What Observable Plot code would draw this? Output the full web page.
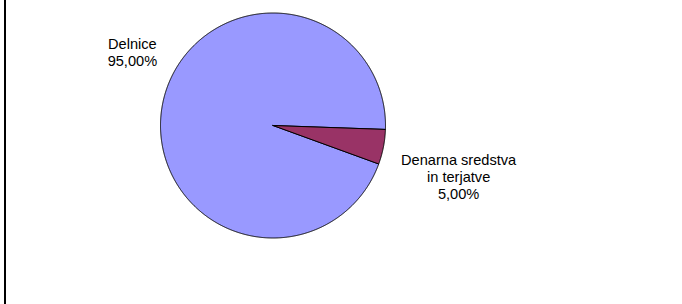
<!DOCTYPE html>
<html>
<head>
<meta charset="utf-8">
<script src="https://cdn.jsdelivr.net/npm/d3@7"></script>
<script src="https://cdn.jsdelivr.net/npm/@observablehq/plot@0.6"></script>
<style>
  html, body { margin: 0; padding: 0; background: #fff; }
  #wrap { position: relative; width: 682px; height: 304px; overflow: hidden; }
  #frame { position: absolute; left: 4px; top: 0; width: 2px; height: 304px; background: #000; }
</style>
</head>
<body>
<div id="wrap"><div id="frame"></div></div>
<script>
// ---- data ----
const categories = ["Delnice", "Denarna sredstva\nin terjatve"];
const shares = [95, 5];
const valueLabels = ["95,00%", "5,00%"];
const sliceColors = ["#9999FF", "#993366"];

// ---- layout (pie geometry in unit-circle coordinates) ----
const cx = 272.5, cy = 125, r = 112.5;
const startDeg = 110; // compass degrees, clockwise from 12 o'clock
// label anchors, in pie-radius units (x right, y up; y = top of first line)
const labelAnchor = [[-1.25, 0.79], [1.65, -0.243]];

const rows = categories.map((c, i) => ({name: c, share: shares[i], pct: valueLabels[i], color: sliceColors[i]}));
const start = startDeg * Math.PI / 180;
const arcs = d3.pie().sort(null).value(d => d.share).startAngle(start).endAngle(start + 2 * Math.PI)(rows);

const pts = [];
arcs.forEach(a => {
  const n = Math.max(8, Math.ceil((a.endAngle - a.startAngle) / (Math.PI / 720)));
  pts.push({name: a.data.name, color: a.data.color, x: 0, y: 0});
  for (let k = 0; k <= n; k++) {
    const t = a.startAngle + (a.endAngle - a.startAngle) * k / n;
    pts.push({name: a.data.name, color: a.data.color, x: Math.sin(t), y: Math.cos(t)});
  }
  pts.push({name: a.data.name, color: a.data.color, x: 0, y: 0});
});

const labels = rows.map((d, i) => ({text: d.name + "\n" + d.pct, x: labelAnchor[i][0], y: labelAnchor[i][1]}));

const chart = Plot.plot({
  width: 682,
  height: 304,
  margin: 0,
  style: {background: "transparent", fontFamily: "'Liberation Sans', Arial, sans-serif", fontSize: "14.6px", overflow: "visible"},
  x: {domain: [-1, 1], range: [cx - r, cx + r], axis: null},
  y: {domain: [-1, 1], range: [cy + r, cy - r], axis: null},
  color: {type: "identity"},
  marks: [
    Plot.line(pts, {x: "x", y: "y", z: "name", fill: "color", stroke: "#000", strokeWidth: 1, curve: "linear", strokeLinejoin: "round"}),
    Plot.text(labels, {x: "x", y: "y", text: "text", lineAnchor: "top", textAnchor: "middle", fontSize: 14.6, lineHeight: 1.16, fill: "#000"})
  ]
});
chart.style.position = "absolute";
chart.style.left = "0";
chart.style.top = "0";
document.getElementById("wrap").appendChild(chart);
</script>
</body>
</html>
